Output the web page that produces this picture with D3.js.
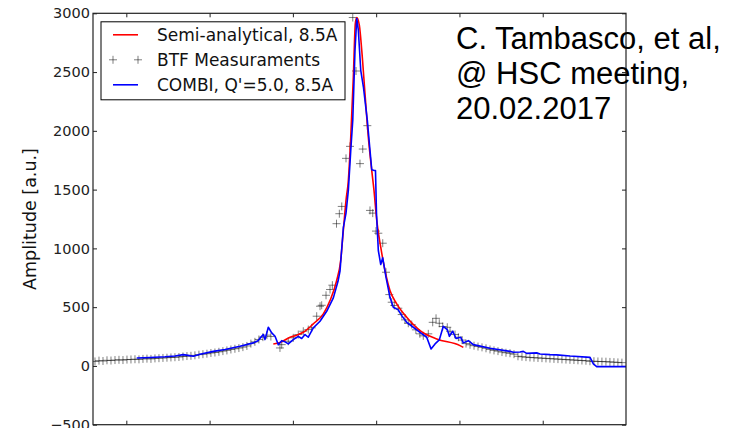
<!DOCTYPE html>
<html>
<head>
<meta charset="utf-8">
<script src="https://cdn.jsdelivr.net/npm/d3@7"></script>
<style>
  body { margin: 0; background: #fff; }
  svg { display: block; }
</style>
</head>
<body>
<svg id="chart"></svg>
<script>
/* CONSTANTS AND GLOBALS */
const width = 740,
  height = 428,
  margin = { top: 13.3, left: 93, right: 114 };
const plotH = 411.4;

// BTF measurements (crosses)
const btfX = [
  -0.376, -0.328, -0.28, -0.232, -0.184, -0.136, -0.088, -0.04, 0.008, 0.056,
  0.104, 0.152, 0.2, 0.248, 0.296, 0.344, 0.392, 0.44, 0.488, 0.536,
  0.584, 0.632, 0.68, 0.728, 0.776, 0.824, 0.872, 0.92, 0.968, 1.016,
  1.064, 1.112, 1.16, 1.208, 1.256, 1.304, 1.352, 1.4, 1.448, 1.496,
  1.544, 1.592, 1.64, 1.688, 1.736,
  1.845, 1.866, 1.945, 2.005, 2.065, 2.125, 2.185, 2.226, 2.286, 2.326,
  2.346, 2.398, 2.446, 2.474, 2.524, 2.558, 2.587, 2.638, 2.686, 2.719,
  2.758, 2.806, 2.839, 2.894, 2.926, 2.959, 2.998, 3.026, 3.079, 3.118,
  3.158, 3.187, 3.218, 3.266, 3.307, 3.346, 3.386, 3.427, 3.477, 3.525,
  3.566, 3.626, 3.679, 3.719, 3.758, 3.799, 3.854, 3.887, 3.947, 3.987,
  4.031,
  4.079, 4.127, 4.175, 4.223, 4.271, 4.319, 4.367, 4.415, 4.463, 4.511,
  4.559, 4.607, 4.655, 4.703, 4.751, 4.799, 4.847, 4.895, 4.943, 4.991,
  5.039, 5.087, 5.135, 5.183, 5.231, 5.279, 5.327, 5.375, 5.423, 5.471,
  5.519, 5.567, 5.615, 5.663, 5.711, 5.759, 5.807, 5.855, 5.903, 5.951
];
const btfY = [
  38, 45, 42, 48, 46, 50, 52, 50, 54, 55,
  57, 56, 60, 62, 60, 64, 66, 68, 70, 72,
  74, 76, 80, 84, 86, 90, 96, 100, 104, 110,
  114, 120, 126, 132, 140, 146, 152, 160, 170, 190,
  205, 225, 245, 262, 250,
  153, 181, 210, 239, 267, 295, 309, 324, 423, 508,
  516, 601, 650, 687, 1210, 1295, 1357, 1766, 1868, 2964,
  2509, 1721, 1845, 2044, 1323, 1300, 1147, 1129, 1044, 797,
  607, 542, 514, 491, 437, 392, 363, 352, 307, 273,
  256, 273, 371, 405, 363, 335, 329, 295, 267, 244,
  220,
  190, 180, 172, 165, 158, 150, 140, 132, 126, 118,
  112, 108, 100, 82, 78, 75, 72, 70, 68, 66,
  64, 62, 60, 58, 56, 54, 52, 50, 48, 46,
  44, 40, 40, 38, 37, 36, 34, 32, 30, 28
];

// COMBI simulation, Q'=5.0
const combiX = [
  0.125, 0.285, 0.465, 0.585, 0.684, 0.741, 0.805, 0.885, 1.045, 1.185,
  1.365, 1.525, 1.581, 1.617, 1.645, 1.665, 1.705, 1.746, 1.786, 1.825,
  1.866, 1.906, 1.945, 2.005, 2.065, 2.106, 2.146, 2.185, 2.245, 2.326,
  2.406, 2.486, 2.542, 2.566, 2.606, 2.638, 2.666, 2.695, 2.719, 2.746,
  2.767, 2.786, 2.815, 2.847, 2.894, 2.926, 2.947, 2.978, 2.992, 3.004,
  3.026, 3.055, 3.079, 3.118, 3.166, 3.206, 3.266, 3.307, 3.367, 3.446,
  3.527, 3.607, 3.659, 3.707, 3.758, 3.806, 3.854, 3.879, 3.919, 3.959,
  4.015, 4.047, 4.107, 4.167, 4.367, 4.607, 4.647, 4.727, 4.767, 4.808,
  4.928, 4.968, 5.088, 5.168, 5.328, 5.568, 5.608, 5.648, 6.0
];
const combiY = [
  68, 72, 78, 85, 96, 90, 82, 100, 124, 140,
  167, 196, 215, 245, 267, 224, 329, 281, 252, 181,
  215, 205, 187, 224, 252, 233, 267, 244, 324, 380,
  465, 579, 720, 806, 1176, 1300, 1493, 1834, 2089, 2686,
  2956, 2856, 2515, 2373, 2089, 1834, 1669, 1663, 1663, 1300,
  982, 863, 920, 755, 584, 499, 477, 428, 371, 329,
  286, 244, 145, 187, 221, 337, 309, 252, 295, 233,
  244, 196, 215, 181, 150, 124, 116, 119, 124, 107,
  111, 102, 96, 94, 84, 73, 17, -6, -6
];

// Semi-analytical curve
const semiX = [
  1.765, 1.846, 1.966, 2.046, 2.125, 2.245, 2.366, 2.446, 2.526, 2.574,
  2.606, 2.638, 2.666, 2.695, 2.726, 2.75, 2.767, 2.798, 2.827, 2.866,
  2.906, 2.947, 2.974, 3.007, 3.055, 3.106, 3.166, 3.247, 3.367, 3.527,
  3.727, 4.007, 4.047
];
const semiY = [
  187, 200, 244, 262, 286, 358, 443, 556, 727, 897,
  1153, 1408, 1578, 1947, 2458, 2913, 2964, 2899, 2686, 2317,
  1947, 1663, 1493, 1238, 1010, 812, 641, 528, 414, 301,
  230, 173, 158
];

const xTicks = [0, 1, 2, 3, 4, 5];
const yTicks = [-500, 0, 500, 1000, 1500, 2000, 2500, 3000];
const legendLabels = ["Semi-analytical, 8.5A", "BTF Measuraments", "COMBI, Q'=5.0, 8.5A"];
const noteLines = ["C. Tambasco, et al,", "@ HSC meeting,", "20.02.2017"];

/* SCALES */
const plotW = width - margin.left - margin.right;
const x = d3.scaleLinear().domain([-0.4, 6.0]).range([0, plotW]);
const y = d3.scaleLinear().domain([-500, 3000]).range([plotH, 0]);

const svg = d3.select("#chart")
  .attr("width", width)
  .attr("height", height)
  .attr("font-family", "'DejaVu Sans', sans-serif");

svg.append("defs").append("clipPath").attr("id", "clip")
  .append("rect").attr("width", plotW).attr("height", plotH);

const g = svg.append("g").attr("transform", `translate(${margin.left},${margin.top})`);

// axes, ticks pointing inward
const styleAxis = sel => {
  sel.select(".domain").remove();
  sel.selectAll(".tick line").attr("stroke", "#222");
  sel.selectAll(".tick text").attr("fill", "#222").attr("font-size", "14.5px")
    .attr("font-family", "'DejaVu Sans', sans-serif");
};

g.append("g")
  .call(d3.axisLeft(y).tickValues(yTicks).tickSize(-4).tickPadding(3).tickFormat(d3.format("d")))
  .call(styleAxis);
g.append("g").attr("transform", `translate(${plotW},0)`)
  .call(d3.axisRight(y).tickValues(yTicks).tickSize(-4).tickFormat(""))
  .call(styleAxis);
g.append("g")
  .call(d3.axisTop(x).tickValues(xTicks).tickSize(-4).tickFormat(""))
  .call(styleAxis);
// bottom tick labels fall below the visible area
g.append("g").attr("transform", `translate(0,${plotH})`)
  .call(d3.axisBottom(x).tickValues(xTicks).tickSize(-4).tickFormat(""))
  .call(styleAxis);

// y label
svg.append("text")
  .attr("transform", "translate(36,219) rotate(-90)")
  .attr("text-anchor", "middle")
  .attr("font-size", "17.5px")
  .attr("fill", "#111")
  .text("Amplitude [a.u.]");

const plot = g.append("g").attr("clip-path", "url(#clip)");

// measurements
const crossPath = "M-4,0H4M0,-4V4";
plot.append("g").selectAll("path")
  .data(btfX.map((d, i) => [d, btfY[i]]))
  .join("path")
  .attr("transform", d => `translate(${x(d[0])},${y(d[1])})`)
  .attr("d", crossPath)
  .attr("stroke", "#000")
  .attr("stroke-opacity", 0.5)
  .attr("stroke-width", 1)
  .attr("fill", "none");

// semi-analytical
plot.append("path")
  .datum(semiX.map((d, i) => [d, semiY[i]]))
  .attr("d", d3.line().x(d => x(d[0])).y(d => y(d[1])).curve(d3.curveMonotoneX))
  .attr("fill", "none")
  .attr("stroke", "#ff0000")
  .attr("stroke-width", 1.6);

// COMBI
plot.append("path")
  .datum(combiX.map((d, i) => [d, combiY[i]]))
  .attr("d", d3.line().x(d => x(d[0])).y(d => y(d[1])))
  .attr("fill", "none")
  .attr("stroke", "#0000ff")
  .attr("stroke-width", 1.6)
  .attr("stroke-linejoin", "round");

// frame
g.append("rect")
  .attr("width", plotW).attr("height", plotH)
  .attr("fill", "none").attr("stroke", "#222").attr("stroke-width", 1.2);

// legend
const legend = g.append("g").attr("transform", "translate(8,8.5)");
legend.append("rect")
  .attr("width", 244).attr("height", 78)
  .attr("fill", "#fff").attr("stroke", "#000").attr("stroke-width", 1);

const rows = legend.selectAll("g.row")
  .data(legendLabels)
  .join("g")
  .attr("class", "row")
  .attr("transform", (d, i) => `translate(0,${13 + i * 25})`);

rows.append("text")
  .attr("x", 56).attr("y", 6)
  .attr("font-size", "17px")
  .attr("fill", "#111")
  .text(d => d);

rows.filter((d, i) => i !== 1).append("line")
  .attr("x1", 12).attr("x2", 37)
  .attr("stroke", (d, i) => i === 0 ? "#ff0000" : "#0000ff")
  .attr("stroke-width", 1.6);

rows.filter((d, i) => i === 1).selectAll("path")
  .data([12, 37])
  .join("path")
  .attr("transform", d => `translate(${d},0)`)
  .attr("d", crossPath)
  .attr("stroke", "#000")
  .attr("stroke-opacity", 0.5)
  .attr("fill", "none");

// annotation
svg.append("text")
  .attr("font-family", "'Liberation Sans', Arial, sans-serif")
  .attr("font-size", "31px")
  .attr("fill", "#000")
  .selectAll("tspan")
  .data(noteLines)
  .join("tspan")
  .attr("x", 456)
  .attr("y", (d, i) => 48.5 + i * 35)
  .text(d => d);
</script>
</body>
</html>
